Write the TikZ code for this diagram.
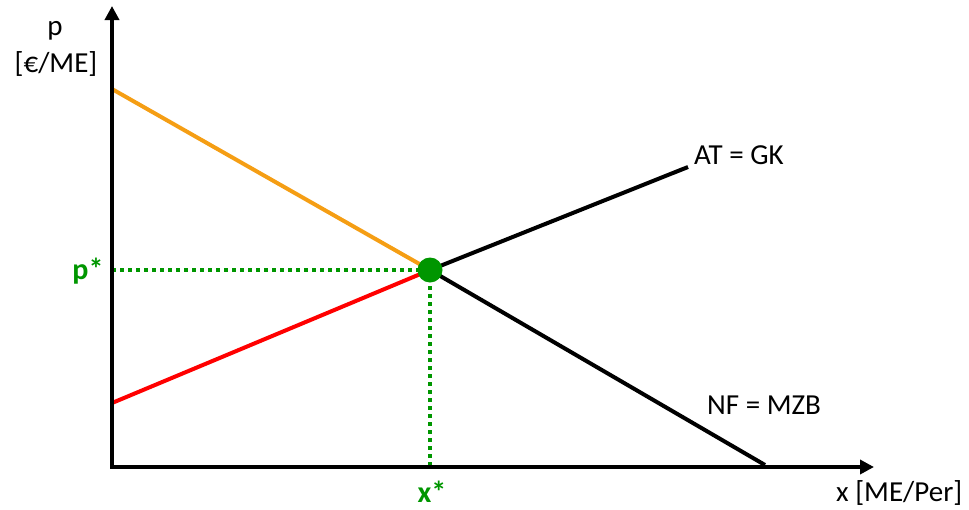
\documentclass[tikz,border=0pt]{standalone}
\usepackage{fontspec}
\setmainfont{Carlito}
\usetikzlibrary{arrows.meta}
\definecolor{myorange}{RGB}{245,158,20}
\definecolor{myred}{RGB}{255,0,0}
\definecolor{mygreen}{RGB}{0,150,0}
\begin{document}
\begin{tikzpicture}[x=1pt,y=-1pt,
  axis/.style={line width=3.6pt,-{Triangle[length=14pt,width=14pt]}},
  curve/.style={line width=4pt},
  guide/.style={mygreen,line width=3.6pt,dash pattern=on 4pt off 4pt},
  lbl/.style={font=\fontsize{29}{34}\selectfont,inner sep=0pt},
  glbl/.style={lbl,text=mygreen,font=\fontsize{30}{35}\selectfont\bfseries}]
\useasboundingbox (0,0) rectangle (969,509);
\coordinate (O) at (112,467);
\coordinate (ytip) at (112,6);
\coordinate (xtip) at (874,467);
\coordinate (a) at (112,89);
\coordinate (b) at (112,403);
\coordinate (E) at (430,270);
\coordinate (at) at (688,167);
\coordinate (nf) at (765,465);
\coordinate (py) at (112,270);
\coordinate (xx) at (430,467);
% guides
\draw[guide] (py) -- (E);
\draw[guide] (E) -- (xx);
% curves
\draw[curve] (E) -- (at);
\draw[curve] (E) -- (nf);
\draw[curve,myorange] (a) -- (E);
\draw[curve,myred] (b) -- (E);
% axes
\draw[axis] ([yshift=1.8pt]O) -- (ytip);
\draw[axis] ([xshift=-1.8pt]O) -- (xtip);
\node[circle,fill=mygreen,minimum size=25pt,inner sep=0pt] (dot) at (E) {};
% labels
\node[lbl] (p) at (55,31) {p};
\node[lbl] (pu) at (56,64) {[€/ME]};
\node[lbl,anchor=west] (atl) at (694,155) {AT = GK};
\node[lbl,anchor=west] (nfl) at (707,405) {NF = MZB};
\node[lbl,anchor=west] (xl) at (836,493) {x [ME/Per]};
\node[glbl] (ps) at (88,271) {p*};
\node[glbl] (xs) at (432,492) {x*};
\end{tikzpicture}
\end{document}
